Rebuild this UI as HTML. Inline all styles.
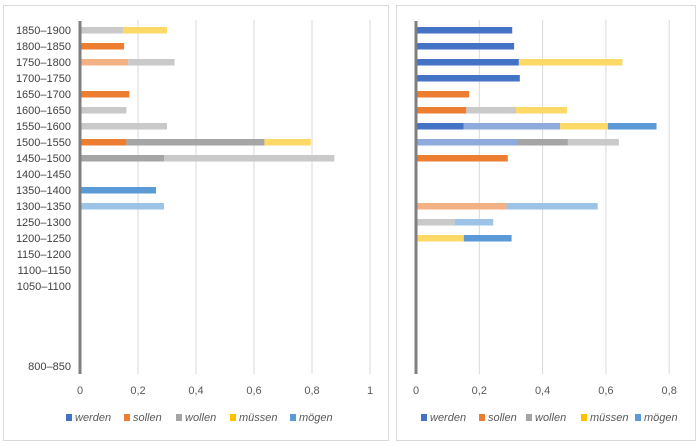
<!DOCTYPE html>
<html><head><meta charset="utf-8">
<style>
body{margin:0;background:#fff;width:699px;height:446px;overflow:hidden;font-family:"Liberation Sans",sans-serif;}
.panel{position:absolute;border:1px solid #d9d9d9;background:#fff;}
</style></head>
<body>
<div class="panel" style="left:3px;top:5px;width:384px;height:434px"></div>
<div class="panel" style="left:396px;top:5px;width:298px;height:434px"></div>
<svg id="svg" width="699" height="446" style="position:absolute;left:0;top:0"></svg>
<script>
const categories = ["1850–1900","1800–1850","1750–1800","1700–1750","1650–1700","1600–1650","1550–1600","1500–1550","1450–1500","1400–1450","1350–1400","1300–1350","1250–1300","1200–1250","1150–1200","1100–1150","1050–1100","","","","","800–850"];
const seriesNames = ["werden","sollen","wollen","müssen","mögen"];
const seriesColors = ["#4472c4","#ed7d31","#a5a5a5","#ffc000","#5b9bd5"];
const shadeColors = {werden:"#4472c4",werdenL:"#8faadc",sollen:"#ed7d31",sollenL:"#f4b183",wollen:"#a5a5a5",wollenL:"#c9c9c9",muessen:"#ffd966",moegen:"#5b9bd5",moegenL:"#9dc3e6"};
const leftSegments = [
 [["wollenL",0.148],["muessen",0.152]],
 [["sollen",0.152]],
 [["sollenL",0.166],["wollenL",0.160]],
 [],
 [["sollen",0.17]],
 [["wollenL",0.16]],
 [["wollenL",0.30]],
 [["sollen",0.16],["wollen",0.476],["muessen",0.16]],
 [["wollen",0.29],["wollenL",0.587]],
 [],
 [["moegen",0.262]],
 [["moegenL",0.29]],
 [],[],[],[],[],[],[],[],[],[]
];
const rightSegments = [
 [["werden",0.304]],
 [["werden",0.31]],
 [["werden",0.325],["muessen",0.327]],
 [["werden",0.328]],
 [["sollen",0.168]],
 [["sollen",0.159],["wollenL",0.157],["muessen",0.161]],
 [["werden",0.151],["werdenL",0.304],["muessen",0.151],["moegen",0.154]],
 [["werdenL",0.319],["wollen",0.161],["wollenL",0.161]],
 [["sollen",0.29]],
 [],[],
 [["sollenL",0.286],["moegenL",0.288]],
 [["wollenL",0.122],["moegenL",0.122]],
 [["muessen",0.151],["moegen",0.151]],
 [],[],[],[],[],[],[],[]
];
const leftTicks = [0,0.2,0.4,0.6,0.8,1];
const leftTickLabels = ["0","0,2","0,4","0,6","0,8","1"];
const rightTicks = [0,0.2,0.4,0.6,0.8];
const rightTickLabels = ["0","0,2","0,4","0,6","0,8"];

const NS="http://www.w3.org/2000/svg";
const svg=document.getElementById('svg');
function mk(tag,attrs,parent){const e=document.createElementNS(NS,tag);for(const k in attrs)e.setAttribute(k,attrs[k]);(parent||svg).appendChild(e);return e;}
const yOf=i=>30+i*16;

function chart(cfg){
  const g=mk('g',{});
  
  
  const xs=v=>cfg.x0+v*cfg.unit;
  cfg.ticks.forEach((t,i)=>{
    if(t>0){const l=mk('line',{x1:xs(t),x2:xs(t),y1:20,y2:374,stroke:'#d9d9d9','stroke-width':1},g);
      
      }
    const tx=mk('text',{x:xs(t),y:394,'font-size':11,fill:'#595959','text-anchor':'middle'},g);
    tx.textContent=cfg.tickLabels[i];
    
    
  });
  cfg.segs.forEach((row,i)=>{
    let acc=0;
    row.forEach(([k,v])=>{
      const r=mk('rect',{x:xs(acc),y:yOf(i)-3,width:v*cfg.unit,height:6.5,fill:shadeColors[k]},g);
      
      
      acc+=v;
    });
    if(cfg.labels && categories[i]){
      const t=mk('text',{x:71,y:yOf(i)+4,'font-size':11,fill:'#404040','text-anchor':'end'},g);
      t.textContent=categories[i];
      
      
    }
  });
  const ax=mk('line',{x1:cfg.x0,x2:cfg.x0,y1:21,y2:374,stroke:'#7f7f7f','stroke-width':3},g);
  
  
  cfg.legendX.forEach((lx,i)=>{
    const m=mk('rect',{x:lx,y:414,width:6,height:7,fill:seriesColors[i]},g);
    
    
    const t=mk('text',{x:lx+9,y:421,'font-size':11,'font-style':'italic',fill:'#595959'},g);
    t.textContent=seriesNames[i];
    
    
  });
}
chart({name:'left-chart',x0:80,unit:290,ticks:leftTicks,tickLabels:leftTickLabels,segs:leftSegments,labels:true,legendX:[66,124,176,230,290]});
chart({name:'right-chart',x0:416,unit:316.5,ticks:rightTicks,tickLabels:rightTickLabels,segs:rightSegments,labels:false,legendX:[421,479,526,581,635]});
</script>
</body></html>
